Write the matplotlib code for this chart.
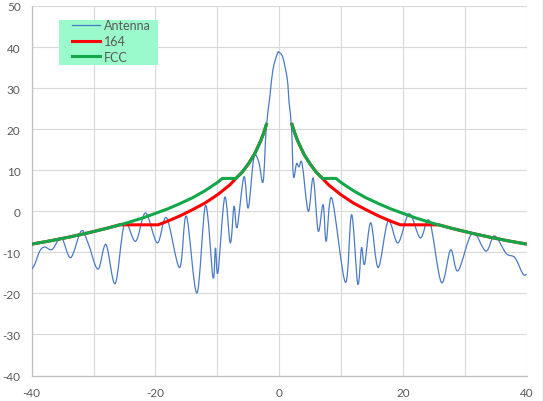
import numpy as np
import matplotlib
matplotlib.use("Agg")
import matplotlib.pyplot as plt
from matplotlib.path import Path
from matplotlib.patches import PathPatch, Rectangle
from matplotlib.lines import Line2D

# ---- data ----
antenna_x = [-40.0, -39.5, -38.7, -37.9, -36.7, -35.2, -33.7, -32.0, -30.9, -29.3,
             -28.0, -26.5, -25.0, -23.2, -21.6, -19.7, -18.2, -16.1, -15.0, -13.3,
             -11.9, -10.7, -10.3, -9.9, -8.8, -7.9, -7.3, -6.8, -5.7, -5.0,
             -4.1, -3.3, -2.6, -2.1, -1.5, -1.0, -0.3, 0.0, 0.6, 1.3,
             1.6, 2.0, 2.3, 2.8, 3.2, 3.7, 4.7, 5.5, 6.3, 7.1,
             7.6, 8.5, 10.7, 11.7, 12.7, 13.3, 13.8, 14.8, 16.0, 17.6,
             19.2, 21.0, 22.8, 24.3, 26.2, 27.7, 28.9, 31.2, 33.4, 34.8,
             36.7, 38.1, 39.4, 40.0]
antenna_y = [-14.1, -12.9, -9.7, -8.7, -9.3, -6.5, -11.3, -4.8, -7.7, -14.1,
             -8.1, -17.6, -3.1, -7.3, -0.4, -7.7, -1.6, -13.7, -1.2, -19.9,
             1.4, -16.1, -8.9, -14.9, 3.4, -7.7, 1.2, -3.9, 8.4, 0.8,
             13.0, 12.0, 7.2, 20.1, 28.1, 34.6, 38.4, 38.7, 37.4, 32.2,
             26.5, 20.1, 8.5, 11.6, 10.8, 11.6, 0.0, 8.1, -4.8, 1.6,
             -7.3, 3.2, -17.3, -0.8, -17.7, -8.9, -12.9, -2.8, -13.7, -2.4,
             -7.7, -0.6, -6.5, -2.4, -17.3, -9.4, -14.5, -5.3, -9.7, -6.0,
             -10.3, -11.3, -15.3, -15.3]

mask164_x = [-40, -37, -34, -31, -28, -25.8, -19.6, -18, -16, -14, -12, -10, -8, -7,
             -6, -5, -4, -3, -2.5, -2]
mask164_y = [-8.0, -7.2, -6.3, -5.3, -4.2, -3.3, -3.3, -2.4, -1.1, 0.4, 2.0, 4.0, 6.4, 8.0,
             9.5, 11.5, 13.9, 17.1, 19.1, 21.5]
mask164_xr = [2, 2.5, 3, 4, 5, 6, 7, 8, 10, 12, 14, 16, 18, 19.6, 25.8, 28, 31, 34, 37, 40]
mask164_yr = [21.5, 19.1, 17.1, 13.9, 11.5, 9.5, 8.0, 6.4, 4.0, 2.0, 0.4, -1.1, -2.4, -3.3,
              -3.3, -4.2, -5.3, -6.3, -7.2, -8.0]

fcc_x = [-40, -37, -34, -31, -28, -25, -22, -20, -18, -16, -14, -12, -10, -9.2, -7,
         -6, -5, -4, -3, -2.5, -2]
fcc_y = [-8.0, -7.2, -6.3, -5.3, -4.2, -3.0, -1.6, -0.5, 0.6, 1.9, 3.3, 5.0, 7.0, 8.0, 8.0,
         9.5, 11.5, 13.9, 17.1, 19.1, 21.5]
fcc_xr = [2, 2.5, 3, 4, 5, 6, 7, 9.2, 10, 12, 14, 16, 18, 20, 22, 25, 28, 31, 34, 37, 40]
fcc_yr = [21.5, 19.1, 17.1, 13.9, 11.5, 9.5, 8.0, 8.0, 7.0, 5.0, 3.3, 1.9, 0.6, -0.5, -1.6,
          -3.0, -4.2, -5.3, -6.3, -7.2, -8.0]

labels = ["Antenna", "164", "FCC"]
x_ticks = [-40, -20, 0, 20, 40]
y_ticks = [-40, -30, -20, -10, 0, 10, 20, 30, 40, 50]

C_BLUE = "#4A7BC6"
C_RED = "#FF0000"
C_GREEN = "#12A84A"
C_TEXT = "#595959"


def smooth_path(xs, ys):
    """Excel-like smoothed line through the points (cubic Bezier, Catmull-Rom)."""
    pts = np.column_stack([xs, ys]).astype(float)
    verts = [pts[0]]
    codes = [Path.MOVETO]
    n = len(pts)
    for i in range(n - 1):
        p0 = pts[i - 1] if i > 0 else pts[i]
        p1 = pts[i]
        p2 = pts[i + 1]
        p3 = pts[i + 2] if i + 2 < n else pts[i + 1]
        c1 = p1 + (p2 - p0) / 6.0
        c2 = p2 - (p3 - p1) / 6.0
        verts += [c1, c2, p2]
        codes += [Path.CURVE4] * 3
    return Path(np.array(verts), codes)


plt.rcParams["font.family"] = ["Lato", "DejaVu Sans"]
plt.rcParams["axes.unicode_minus"] = False

W, H = 544, 402
L, R, T, B = 31.7, 526.7, 7.0, 376.5
fig = plt.figure(figsize=(W / 100, H / 100), dpi=100)
ax = fig.add_axes([L / W, 1 - B / H, (R - L) / W, (B - T) / H])

ax.add_patch(PathPatch(smooth_path(antenna_x, antenna_y), fill=False,
                       edgecolor=C_BLUE, lw=0.9, zorder=3))
ax.plot(mask164_x, mask164_y, color=C_RED, lw=2.2, zorder=4, solid_capstyle="butt")
ax.plot(mask164_xr, mask164_yr, color=C_RED, lw=2.2, zorder=4, solid_capstyle="butt")
ax.plot(fcc_x, fcc_y, color=C_GREEN, lw=2.2, zorder=5, solid_capstyle="butt")
ax.plot(fcc_xr, fcc_yr, color=C_GREEN, lw=2.2, zorder=5, solid_capstyle="butt")

ax.set_xlim(-40, 40)
ax.set_ylim(-40, 50)
ax.set_xticks(x_ticks)
ax.set_xticks(np.arange(-40, 41, 10), minor=True)
ax.set_yticks(y_ticks)
ax.grid(True, which="both", color="#D9D9D9", lw=0.8)
ax.set_axisbelow(True)
ax.tick_params(which="both", length=0, colors=C_TEXT, labelsize=8.5)
ax.tick_params(axis="y", pad=8)
ax.tick_params(axis="x", pad=8)
for s in ["top", "right"]:
    ax.spines[s].set_visible(False)
for s in ["left", "bottom"]:
    ax.spines[s].set_color("#BFBFBF")
    ax.spines[s].set_linewidth(0.9)

# legend background box
aw, ah = R - L, B - T
ax.add_patch(Rectangle(((59 - L) / aw, (B - 66) / ah), 99 / aw, 45 / ah,
                       transform=ax.transAxes, facecolor="#9BFACB", edgecolor="none",
                       zorder=9, clip_on=False))
handles = [Line2D([], [], color=C_BLUE, lw=0.9),
           Line2D([], [], color=C_RED, lw=2.2),
           Line2D([], [], color=C_GREEN, lw=2.2)]
leg = ax.legend(handles, labels, loc="upper left",
                bbox_to_anchor=((72 - L) / aw, (B - 20.5) / ah),
                frameon=False, fontsize=9, handlelength=2.2, handletextpad=0.32,
                labelspacing=0.28, borderpad=0.0, borderaxespad=0.0)
for t in leg.get_texts():
    t.set_color(C_TEXT)
leg.set_zorder(10)

fig.add_artist(Line2D([543.3 / W, 543.3 / W], [0, 1], color="#D0D0D0", lw=1.0,
                      transform=fig.transFigure))

fig.savefig("out.png", dpi=100)
